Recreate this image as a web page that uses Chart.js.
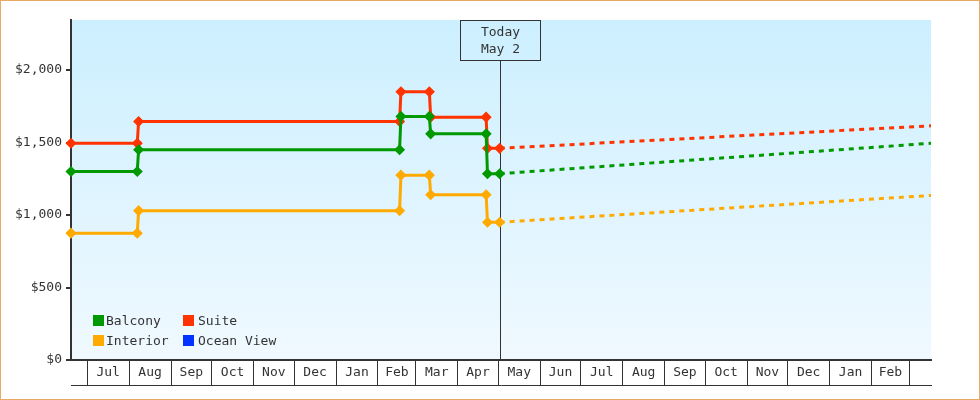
<!DOCTYPE html>
<html>
<head>
<meta charset="utf-8">
<script src="https://cdn.jsdelivr.net/npm/chart.js@4.4.1/dist/chart.umd.min.js"></script>
<style>
  html, body { margin: 0; padding: 0; background: #fff; }
  #wrap { position: relative; width: 980px; height: 400px; }
  #frame { position: absolute; left: 0; top: 0; right: 0; bottom: 0; border: 1px solid #e9aa66; pointer-events: none; }
  .sw { position: absolute; width: 11px; height: 11px; }
  .kt { position: absolute; font: 13px 'DejaVu Sans Mono', monospace; color: #333; line-height: 13px; white-space: nowrap; }
</style>
</head>
<body>
<div id="wrap">
  <canvas id="chart"></canvas>
  <div id="legend"></div>
  <div id="frame"></div>
</div>
<script>
// price history (change dates, each change has the day before and the day of)
const priceDates = ['2021-06-19', '2021-08-07', '2021-08-08', '2022-02-17', '2022-02-18',
  '2022-03-11', '2022-03-12', '2022-04-22', '2022-04-23', '2022-05-02'];
const balcony  = [1300, 1300, 1450, 1450, 1680, 1680, 1560, 1560, 1285, 1285];
const suite    = [1495, 1495, 1645, 1645, 1850, 1850, 1675, 1675, 1460, 1460];
const interior = [875, 875, 1030, 1030, 1275, 1275, 1140, 1140, 950, 950];
const oceanView = [];

// forecast from today to the end of the range
const forecastDates = ['2022-05-02', '2023-03-17'];
const balconyForecast  = [1285, 1495];
const suiteForecast    = [1460, 1615];
const interiorForecast = [950, 1135];

const seriesNames  = ['Balcony', 'Suite', 'Interior', 'Ocean View'];
const seriesColors = ['#009900', '#ff3300', '#ffaa00', '#0033ff'];

const todayDate = '2022-05-02';
const todayText = ['Today', 'May 2'];

const monthStarts = ['2021-07-01', '2021-08-01', '2021-09-01', '2021-10-01', '2021-11-01', '2021-12-01',
  '2022-01-01', '2022-02-01', '2022-03-01', '2022-04-01', '2022-05-01', '2022-06-01', '2022-07-01',
  '2022-08-01', '2022-09-01', '2022-10-01', '2022-11-01', '2022-12-01', '2023-01-01', '2023-02-01',
  '2023-03-01'];
const monthLabels = ['Jul', 'Aug', 'Sep', 'Oct', 'Nov', 'Dec', 'Jan', 'Feb', 'Mar', 'Apr', 'May',
  'Jun', 'Jul', 'Aug', 'Sep', 'Oct', 'Nov', 'Dec', 'Jan', 'Feb'];
const yTickValues = [0, 500, 1000, 1500, 2000];

const startDate = priceDates[0];
const endDate = forecastDates[forecastDates.length - 1];

function day(s) {
  const p = s.split('-').map(Number);
  const q = startDate.split('-').map(Number);
  return (Date.UTC(p[0], p[1] - 1, p[2]) - Date.UTC(q[0], q[1] - 1, q[2])) / 864e5;
}
function pts(dates, vals) {
  return vals.map((v, i) => ({ x: day(dates[i]), y: v }));
}

// separator ticks at month starts, label ticks in the middle of each month
const startSet = new Set(monthStarts.map(day));
const labelAt = new Map();
monthLabels.forEach((l, i) => {
  labelAt.set((day(monthStarts[i]) + day(monthStarts[i + 1])) / 2, l);
});

const font = { family: "'DejaVu Sans Mono', monospace", size: 13 };
Chart.defaults.font = font;
Chart.defaults.color = '#333';

const bgPlugin = {
  id: 'bg',
  beforeDraw(chart) {
    const { ctx, chartArea: a } = chart;
    const g = ctx.createLinearGradient(0, a.top, 0, a.bottom);
    g.addColorStop(0, '#ccefff');
    g.addColorStop(1, '#f0f9ff');
    ctx.save();
    ctx.fillStyle = g;
    ctx.fillRect(a.left, a.top, a.right - a.left, a.bottom - a.top);
    ctx.restore();
  }
};

const todayPlugin = {
  id: 'today',
  beforeDatasetsDraw(chart) {
    const { ctx, chartArea: a } = chart;
    const x = Math.round(chart.scales.x.getPixelForValue(day(todayDate))) + 0.5;
    const top = a.top + 0.5;
    ctx.save();
    ctx.strokeStyle = '#333';
    ctx.lineWidth = 1;
    ctx.strokeRect(x - 40, top, 80, 40);
    ctx.beginPath();
    ctx.moveTo(x, top + 40);
    ctx.lineTo(x, a.bottom);
    ctx.stroke();
    ctx.fillStyle = '#333';
    ctx.font = "13px 'DejaVu Sans Mono', monospace";
    ctx.textAlign = 'center';
    ctx.textBaseline = 'middle';
    ctx.fillText(todayText[0], x, top + 12);
    ctx.fillText(todayText[1], x, top + 29);
    ctx.restore();
  }
};

function solid(i, vals) {
  return {
    label: seriesNames[i],
    data: pts(priceDates, vals),
    borderColor: seriesColors[i],
    backgroundColor: seriesColors[i],
    borderWidth: 3,
    pointStyle: 'rectRot',
    pointRadius: 4.5,
    pointBorderWidth: 1.5,
    tension: 0,
    clip: false
  };
}
function dashed(i, vals) {
  return {
    label: seriesNames[i] + ' forecast',
    data: pts(forecastDates, vals),
    borderColor: seriesColors[i],
    borderWidth: 3,
    borderDash: [5, 5],
    pointRadius: 0,
    tension: 0
  };
}

new Chart(document.getElementById('chart'), {
  type: 'line',
  data: {
    datasets: [
      dashed(2, interiorForecast), dashed(0, balconyForecast), dashed(1, suiteForecast),
      solid(2, interior), solid(0, balcony), solid(1, suite),
      { label: seriesNames[3], data: oceanView, borderColor: seriesColors[3] }
    ]
  },
  options: {
    responsive: true,
    maintainAspectRatio: false,
    animation: false,
    layout: { padding: { left: 0, right: 49, top: 20, bottom: 15 } },
    plugins: { legend: { display: false }, tooltip: { enabled: false } },
    scales: {
      x: {
        type: 'linear',
        position: 'bottom',
        weight: 0,
        min: day(startDate),
        max: day(endDate),
        afterBuildTicks(scale) {
          const vals = [...startSet, ...labelAt.keys()].sort((a, b) => a - b);
          scale.ticks = vals.map(v => ({ value: v }));
        },
        afterFit(scale) { scale.height = 25; },
        grid: {
          drawOnChartArea: false,
          drawTicks: true,
          tickLength: 25,
          lineWidth: 1,
          color: c => (c.tick && labelAt.has(c.tick.value)) ? 'rgba(0,0,0,0)' : '#333'
        },
        border: { display: true, color: '#333', width: 2 },
        ticks: {
          autoSkip: false,
          maxRotation: 0,
          padding: -20,
          color: '#333',
          callback: v => labelAt.get(v) || ''
        }
      },
      xb: {
        type: 'linear',
        position: 'bottom',
        weight: 1,
        display: true,
        afterFit(scale) { scale.height = 0; },
        grid: { display: false, drawTicks: false },
        ticks: { display: false },
        border: { display: true, color: '#333', width: 1 }
      },
      y: {
        type: 'linear',
        min: 0,
        max: 2345,
        afterBuildTicks(scale) { scale.ticks = yTickValues.map(v => ({ value: v })); },
        afterFit(scale) { scale.width = 71; },
        grid: { drawOnChartArea: false, drawTicks: true, tickLength: 5, lineWidth: 2, color: '#333' },
        border: { display: true, color: '#333', width: 2 },
        ticks: {
          padding: 4,
          color: '#333',
          callback: v => '$' + v.toLocaleString('en-US')
        }
      }
    }
  },
  plugins: [bgPlugin, todayPlugin]
});

// legend laid out in two columns inside the plot
const legendPos = [[93, 315], [183, 315], [93, 335], [183, 335]];
const legendTextX = [106, 198, 106, 198];
const legend = document.getElementById('legend');
seriesNames.forEach((name, i) => {
  const [lx, ly] = legendPos[i];
  const sw = document.createElement('div');
  sw.className = 'sw';
  sw.style.left = lx + 'px';
  sw.style.top = ly + 'px';
  sw.style.background = seriesColors[i];
  const t = document.createElement('div');
  t.className = 'kt';
  t.style.left = legendTextX[i] + 'px';
  t.style.top = (ly - 1) + 'px';
  t.textContent = name;
  legend.appendChild(sw);
  legend.appendChild(t);
});
</script>
</body>
</html>
